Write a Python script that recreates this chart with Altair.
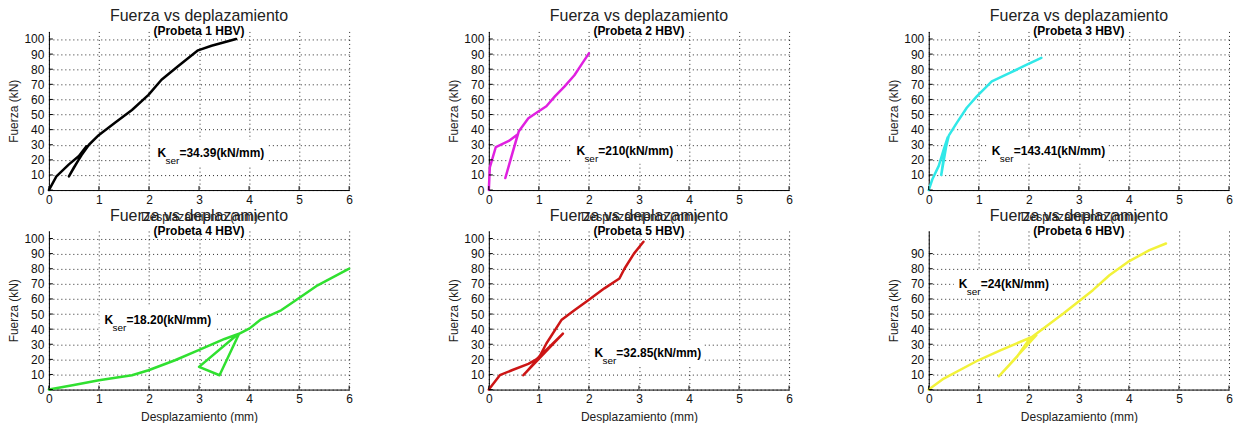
import altair as alt
import pandas as pd

FONT = "Liberation Sans"
W, H = 301, 159

main_title = "Fuerza vs deplazamiento"
probetas = ["(Probeta 1 HBV)", "(Probeta 2 HBV)", "(Probeta 3 HBV)",
            "(Probeta 4 HBV)", "(Probeta 5 HBV)", "(Probeta 6 HBV)"]
colors = ["#000000", "#e020e0", "#30e8e8", "#30e030", "#cc1515", "#f2f23a"]
kser_vals = ["34.39", "210", "143.41", "18.20", "32.85", "24"]
kser_x = [2.17, 1.75, 1.26, 1.11, 2.11, 0.60]
kser_y = [22.0, 23.5, 23.5, 43.7, 21.6, 67.3]

x_ticks = [0, 1, 2, 3, 4, 5, 6]
y_ticks_full = [0, 10, 20, 30, 40, 50, 60, 70, 80, 90, 100]
y_ticks_p6 = [0, 10, 20, 30, 40, 50, 60, 70, 80, 90]

x1 = [0, 0.15, 0.4, 0.6, 0.75, 0.4, 0.5, 0.65, 0.8, 1.0, 1.32, 1.66, 1.99, 2.25, 2.58, 2.98, 3.25, 3.74]
y1 = [0, 9, 17, 22.5, 29, 9, 15, 23, 30, 36.5, 44.5, 53, 63, 73, 82, 92.5, 95.5, 100]

x2 = [0, 0.02, 0.14, 0.4, 0.58, 0.33, 0.45, 0.6, 0.79, 0.99, 1.15, 1.32, 1.51, 1.71, 1.85, 2.0]
y2 = [0, 15, 28.5, 32.5, 37, 8, 22, 39, 47.5, 52, 55.5, 62, 68.5, 76, 83, 90.5]

x3 = [0, 0.07, 0.2, 0.3, 0.38, 0.25, 0.3, 0.4, 0.56, 0.76, 0.96, 1.26, 1.62, 1.96, 2.25]
y3 = [0, 7, 16, 27, 35, 10, 22, 36, 44.5, 54.5, 62, 72, 77.5, 83, 87.5]

x4 = [0, 0.5, 1.0, 1.66, 1.99, 2.52, 2.98, 3.51, 3.8, 3.41, 3.0, 3.75, 4.01, 4.24, 4.64, 4.97, 5.37, 6.0]
y4 = [0, 3, 6.2, 9.5, 12.8, 19.4, 26, 33.5, 37, 9.5, 15, 36, 40.5, 46.5, 52.5, 60, 69, 80]

x5 = [0, 0.22, 0.46, 0.79, 0.95, 1.2, 1.48, 0.69, 1.0, 1.15, 1.45, 1.71, 1.98, 2.31, 2.61, 2.71, 2.9, 3.09]
y5 = [0, 9.5, 12.8, 17, 20, 28, 37, 9.5, 21, 30.5, 46, 52.5, 59, 67, 73.5, 80, 90, 97.8]

x6 = [0, 0.3, 0.99, 1.43, 1.99, 2.15, 1.4, 1.76, 2.02, 2.29, 2.69, 3.02, 3.28, 3.61, 3.98, 4.41, 4.74]
y6 = [0, 7.3, 19.4, 26, 33.8, 36, 8.8, 21.6, 33.8, 40.4, 50.3, 59, 65.8, 75.7, 84.5, 92.3, 96.7]

series_x = [x1, x2, x3, x4, x5, x6]
series_y = [y1, y2, y3, y4, y5, y6]

BOLD_W = {"=": 0.584, ".": 0.278, "(": 0.333, ")": 0.333, "k": 0.556,
          "N": 0.722, "/": 0.278, "m": 0.889}


def text_width(s, size):
    return sum(BOLD_W.get(c, 0.556) for c in s) * size


def panel(i):
    yt = y_ticks_p6 if i == 5 else y_ticks_full
    xenc = alt.X("x:Q", scale=alt.Scale(domain=[0, 6], nice=False, zero=False),
                 axis=alt.Axis(values=x_ticks, title="Desplazamiento (mm)", grid=True,
                               gridDash=[1, 3], gridColor="#000", gridOpacity=0.85,
                               domainColor="#000", tickSize=0, labelPadding=4,
                               labelFontSize=12, labelFont=FONT, labelColor="#111",
                               labelFlush=False, labelOverlap=False,
                               titleFont=FONT, titleFontSize=12, titleFontWeight="normal",
                               titleColor="#222", titleY=31, titleBaseline="alphabetic"))
    yenc = alt.Y("y:Q", scale=alt.Scale(domain=[0, 105], nice=False, zero=False),
                 axis=alt.Axis(values=yt, title="Fuerza (kN)", grid=True,
                               gridDash=[1, 3], gridColor="#000", gridOpacity=0.85,
                               domainColor="#000", tickSize=0, labelPadding=5,
                               labelFontSize=12, labelFont=FONT, labelColor="#111",
                               labelFlush=False, labelOverlap=False,
                               titleFont=FONT, titleFontSize=12, titleFontWeight="normal",
                               titleColor="#222", titleX=-35, titleBaseline="middle"))

    df = pd.DataFrame({"x": series_x[i], "y": series_y[i], "i": list(range(len(series_x[i])))})
    line = alt.Chart(df).mark_line(color=colors[i], strokeWidth=2.5, strokeJoin="round",
                                   strokeCap="round").encode(x=xenc, y=yenc, order="i:Q")

    xt = alt.Chart(pd.DataFrame({"x": x_ticks})).mark_rule(color="#000").encode(
        x=xenc, y=alt.value(H), y2=alt.value(H - 4))
    ytk = alt.Chart(pd.DataFrame({"y": yt})).mark_rule(color="#000").encode(
        y=yenc, x=alt.value(0), x2=alt.value(4))

    label = "=" + kser_vals[i] + "(kN/mm)"
    tw = text_width(label, 12)
    ann = pd.DataFrame({"x": [kser_x[i]], "y": [kser_y[i]], "k": ["K"], "s": ["ser"], "v": [label]})
    base = alt.Chart(ann)
    box = base.mark_rect(color="white", xOffset=-5, x2Offset=22 + tw + 3,
                         yOffset=-17, y2Offset=9).encode(x=xenc, x2="x:Q", y=yenc, y2="y:Q")
    k = base.mark_text(font=FONT, fontSize=12, fontWeight="bold", align="left",
                       baseline="alphabetic", color="#000").encode(x=xenc, y=yenc, text="k:N")
    s = base.mark_text(font=FONT, fontSize=10, align="left", baseline="alphabetic",
                       dx=8, dy=7, color="#000").encode(x=xenc, y=yenc, text="s:N")
    v = base.mark_text(font=FONT, fontSize=12, fontWeight="bold", align="left",
                       baseline="alphabetic", dx=22, color="#000").encode(x=xenc, y=yenc, text="v:N")

    tdf = pd.DataFrame({"t": [main_title], "p": [probetas[i]]})
    t1 = alt.Chart(tdf).mark_text(font=FONT, fontSize=16, align="center", baseline="alphabetic",
                                  color="#222").encode(text="t:N", x=alt.value(W / 2), y=alt.value(-10))
    t2 = alt.Chart(tdf).mark_text(font=FONT, fontSize=12, fontWeight="bold", align="center",
                                  baseline="alphabetic", color="#000").encode(
        text="p:N", x=alt.value(W / 2), y=alt.value(4))

    return alt.layer(line, xt, ytk, box, k, s, v, t1, t2).properties(width=W, height=H)


chart = alt.concat(*[panel(i) for i in range(6)], columns=3,
                   spacing={"row": 41, "column": 140}, bounds="flush").properties(
    padding={"left": 0, "top": 0, "right": 0, "bottom": 0},
    background="white",
).configure_view(strokeWidth=0)

chart.save("out.html", embed_options={"renderer": "svg", "actions": False})
